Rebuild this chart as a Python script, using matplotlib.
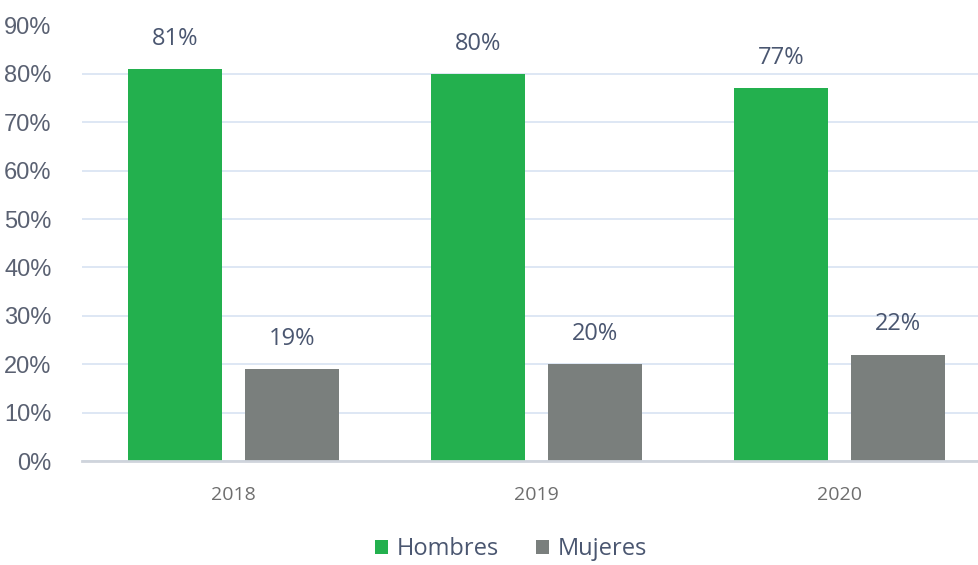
import numpy as np
import matplotlib.pyplot as plt
from matplotlib.ticker import FuncFormatter

# Datos
anios = ['2018', '2019', '2020']
hombres = [81, 80, 77]
mujeres = [19, 20, 22]

verde = '#23b04e'
gris = '#7a7f7d'

plt.rcParams['font.family'] = ['Open Sans', 'DejaVu Sans']

fig = plt.figure(figsize=(9.79, 5.65), dpi=100)
ax = fig.add_axes([82 / 979, 104 / 565, (991.5 - 82) / 979, (461 - 25.5) / 565])

x = np.arange(len(anios))
ancho = 0.31
desp = 0.193
b1 = ax.bar(x - desp, hombres, ancho, color=verde, label='Hombres', zorder=3)
b2 = ax.bar(x + desp, mujeres, ancho, color=gris, label='Mujeres', zorder=3)

# Etiquetas de valores
for barras in (b1, b2):
    for b in barras:
        ax.annotate(f'{b.get_height():.0f}%', (b.get_x() + b.get_width() / 2, b.get_height()),
                    xytext=(0, 13), textcoords='offset points', ha='center', va='bottom',
                    fontsize=17, color='#4a5670')

ax.set_xlim(-0.5, 2.5)
ax.set_ylim(0, 90)
ax.set_yticks(range(0, 91, 10))
ax.yaxis.set_major_formatter(FuncFormatter(lambda v, p: f'{v:.0f}%'))
ax.set_xticks(x)
ax.set_xticklabels(anios)

ax.grid(axis='y', color='#d8e3f2', linewidth=1.2, zorder=0)
for s in ['top', 'right', 'left']:
    ax.spines[s].set_visible(False)
ax.spines['bottom'].set_color('#cfd4dc')
ax.spines['bottom'].set_linewidth(2)
ax.spines['bottom'].set_zorder(4)

ax.tick_params(axis='y', length=0, pad=22, labelsize=17, labelcolor='#5a6172')
for t in ax.get_yticklabels():
    t.set_fontfamily(['Liberation Sans', 'DejaVu Sans'])
ax.tick_params(axis='x', length=0, pad=18, labelsize=14, labelcolor='#6e6e6e')

fig.legend(handles=[b1, b2], loc='center', bbox_to_anchor=(511 / 979, 16 / 565), ncol=2,
           frameon=False, fontsize=17, handlelength=0.55, handleheight=0.55,
           handletextpad=0.35, columnspacing=1.6, labelcolor='#4a5670')

plt.savefig('out.png', dpi=100)
